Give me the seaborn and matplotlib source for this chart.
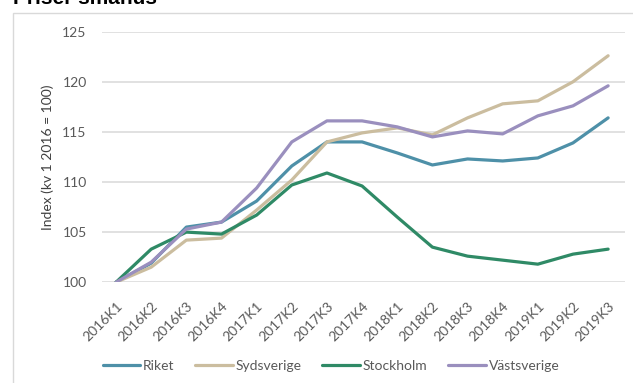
import matplotlib
matplotlib.use("Agg")
import matplotlib.pyplot as plt
from matplotlib.patches import Rectangle
from matplotlib.transforms import ScaledTranslation
import pandas as pd
import seaborn as sns

quarters = ["2016K1", "2016K2", "2016K3", "2016K4",
            "2017K1", "2017K2", "2017K3", "2017K4",
            "2018K1", "2018K2", "2018K3", "2018K4",
            "2019K1", "2019K2", "2019K3"]

riket = [100.0, 101.9, 105.5, 106.0, 108.1, 111.6, 114.0, 114.0,
         112.9, 111.7, 112.3, 112.1, 112.4, 113.9, 116.4]
sydsverige = [100.0, 101.5, 104.2, 104.4, 107.2, 110.2, 114.0, 114.9,
              115.4, 114.7, 116.4, 117.8, 118.1, 120.0, 122.6]
stockholm = [100.0, 103.3, 105.0, 104.8, 106.7, 109.7, 110.9, 109.6,
             106.5, 103.5, 102.6, 102.2, 101.8, 102.8, 103.3]
vastsverige = [100.0, 102.0, 105.3, 106.0, 109.4, 114.0, 116.1, 116.1,
               115.5, 114.5, 115.1, 114.8, 116.6, 117.6, 119.6]

series = {
    "Riket": riket,
    "Sydsverige": sydsverige,
    "Stockholm": stockholm,
    "Västsverige": vastsverige,
}
colors = {
    "Riket": "#4e90a8",
    "Sydsverige": "#cbbd9f",
    "Stockholm": "#2f8a66",
    "Västsverige": "#9a8fbe",
}

title = "Priser småhus"
ylabel = "Index (kv 1 2016 = 100)"
yticks = [100, 105, 110, 115, 120, 125]

rows = []
for name, vals in series.items():
    for i, v in enumerate(vals):
        rows.append({"pos": i, "region": name, "value": v})
df = pd.DataFrame(rows)

sns.set_theme(style="white")
plt.rcParams["font.family"] = ["Lato", "DejaVu Sans"]

W, H = 633, 383
fig = plt.figure(figsize=(W / 100, H / 100), dpi=100)
fig.patch.set_facecolor("white")

# outer chart frame
fig.patches.append(Rectangle((13 / W, -0.1), 1.2, 1 - 13 / H + 0.1,
                             transform=fig.transFigure, fill=False,
                             edgecolor="#d9d9d9", linewidth=1.0))

left, right = 102, 625
top, bottom = 31.7, 282.2
ax = fig.add_axes([left / W, 1 - bottom / H, (right - left) / W, (bottom - top) / H])

sns.lineplot(data=df, x="pos", y="value", hue="region", palette=colors,
             hue_order=list(series.keys()), linewidth=2.3, ax=ax, legend=False)

ax.set_xlim(-0.4, 14.48)
ax.set_ylim(100, 125)
ax.set_yticks(yticks)
ax.set_yticklabels([str(t) for t in yticks], fontsize=10, color="#595959")
ax.set_xticks(range(len(quarters)))
ax.set_xticklabels(quarters, fontsize=10, color="#595959", rotation=45,
                   ha="right", va="top", rotation_mode="anchor")
shift = ScaledTranslation(6 / 100, 0, fig.dpi_scale_trans)
for lbl in ax.get_xticklabels():
    lbl.set_transform(lbl.get_transform() + shift)
ax.tick_params(axis="both", length=0)
ax.tick_params(axis="y", pad=11)
ax.tick_params(axis="x", pad=13)
ax.grid(axis="y", color="#d9d9d9", linewidth=1.1)
ax.set_axisbelow(True)
for s in ax.spines.values():
    s.set_visible(False)
ax.set_xlabel("")
ax.set_ylabel(ylabel, fontsize=10, color="#404040", labelpad=6)

handles = [plt.Line2D([], [], color=colors[n], linewidth=2.3) for n in series]
fig.legend(handles, list(series.keys()), loc="center",
           bbox_to_anchor=(331 / W, 1 - 366 / H), ncol=4, frameon=False,
           fontsize=10, handlelength=2.7, handletextpad=0.2,
           columnspacing=1.5, labelcolor="#595959")

fig.text(13 / W, 1 - 4.5 / H, title, fontsize=15, fontweight="bold",
         family=["Liberation Sans", "DejaVu Sans"], color="black",
         va="baseline", ha="left")

fig.savefig("out.png", dpi=100, facecolor="white")
